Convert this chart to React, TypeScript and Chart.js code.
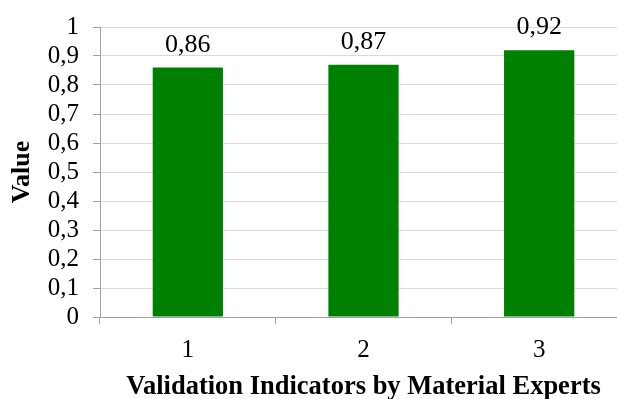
import React, { useEffect, useRef } from "react";
import { Chart, registerables } from "chart.js";

Chart.register(...registerables);

const categories = ["1", "2", "3"];
const values = [0.86, 0.87, 0.92];
const valueLabels = ["0,86", "0,87", "0,92"];
const yTickLabels = ["0", "0,1", "0,2", "0,3", "0,4", "0,5", "0,6", "0,7", "0,8", "0,9", "1"];
const xTitle = "Validation Indicators by Material Experts";
const yTitle = "Value";

const FONT = "'Liberation Serif', 'Times New Roman', serif";

const dataLabelPlugin = {
  id: "dataLabels",
  afterDatasetsDraw(chart: any) {
    const ctx = chart.ctx;
    const meta = chart.getDatasetMeta(0);
    ctx.save();
    ctx.font = `26px ${FONT}`;
    ctx.fillStyle = "#000";
    ctx.textAlign = "center";
    ctx.textBaseline = "alphabetic";
    meta.data.forEach((bar: any, i: number) => {
      ctx.fillText(valueLabels[i], bar.x, bar.y - 16);
    });
    ctx.restore();
  },
};

export default function App() {
  const ref = useRef<HTMLCanvasElement | null>(null);
  useEffect(() => {
    if (!ref.current) return;
    const chart = new Chart(ref.current, {
      type: "bar",
      data: {
        labels: categories,
        datasets: [
          {
            data: values,
            backgroundColor: "#008000",
            borderWidth: 0,
            barPercentage: 0.4,
            categoryPercentage: 1,
          },
        ],
      },
      options: {
        animation: false,
        responsive: false,
        devicePixelRatio: 1,
        layout: { padding: { top: 27, left: 0, right: 0, bottom: 0 } },
        plugins: { legend: { display: false }, tooltip: { enabled: false } },
        scales: {
          x: {
            grid: {
              offset: true,
              drawOnChartArea: false,
              drawTicks: true,
              tickLength: 7,
              tickColor: "#a0a0a0",
            },
            border: { color: "#a0a0a0", width: 1 },
            ticks: {
              color: "#000",
              font: { family: FONT, size: 25 },
              padding: 11,
            },
            title: {
              display: true,
              text: xTitle,
              color: "#000",
              font: { family: FONT, size: 26.5, weight: "bold", lineHeight: 1 },
              padding: { top: 0, bottom: -1 },
            },
            afterFit(scale: any) {
              scale.height = 82;
            },
          },
          y: {
            min: 0,
            max: 1,
            ticks: {
              stepSize: 0.1,
              autoSkip: false,
              color: "#000",
              font: { family: FONT, size: 25, lineHeight: 1 },
              padding: 14,
              callback: (_v: any, i: number) => yTickLabels[i],
            },
            grid: {
              color: "#d9d9d9",
              tickColor: "#a0a0a0",
              tickLength: 7,
            },
            border: { color: "#a0a0a0", width: 1 },
            title: {
              display: true,
              text: yTitle,
              color: "#000",
              font: { family: FONT, size: 26, weight: "bold", lineHeight: 1 },
              padding: { top: 9, bottom: 0 },
            },
            afterFit(scale: any) {
              scale.width = 100;
            },
          },
        },
      },
      plugins: [dataLabelPlugin],
    });
    return () => chart.destroy();
  }, []);

  return (
    <div
      style={{
        position: "fixed",
        left: 0,
        top: 0,
        width: 617,
        height: 399,
        overflow: "hidden",
        background: "#fff",
      }}
    >
      <canvas ref={ref} width={627} height={399} style={{ display: "block", width: 627, height: 399 }} />
    </div>
  );
}
